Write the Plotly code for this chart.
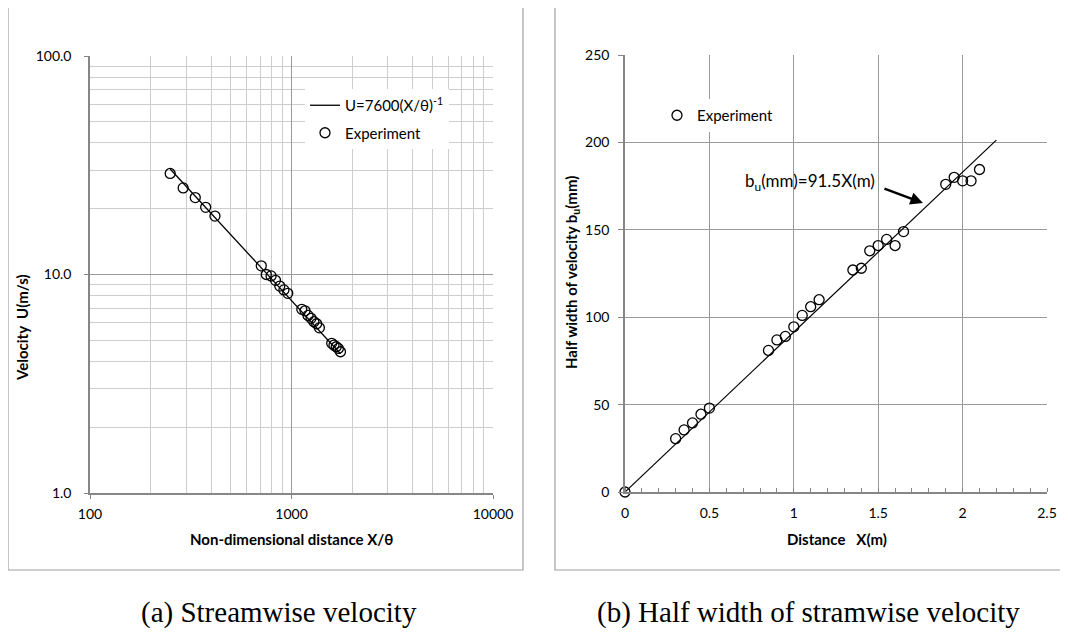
import plotly.graph_objects as go

# ---------------- data ----------------
# (a) streamwise velocity, log-log
xtheta_exp = [250, 290, 333, 375, 417, 708, 750, 792, 833, 875, 917, 958,
              1125, 1167, 1208, 1250, 1292, 1333, 1375, 1583, 1625, 1667, 1708, 1750]
u_exp = [29.0, 24.9, 22.5, 20.3, 18.5, 10.96, 10.0, 9.85, 9.4, 8.85, 8.5, 8.2,
         6.93, 6.82, 6.5, 6.3, 6.08, 5.95, 5.7, 4.84, 4.75, 4.67, 4.59, 4.43]
fit_xtheta = [250, 1750]
fit_u = [30.4, 4.34]

# (b) half width
x_m = [0, 0.30, 0.35, 0.40, 0.45, 0.50, 0.85, 0.90, 0.95, 1.00, 1.05, 1.10, 1.15,
       1.35, 1.40, 1.45, 1.50, 1.55, 1.60, 1.65, 1.90, 1.95, 2.00, 2.05, 2.10]
bu_mm = [0, 30.5, 35.5, 39.5, 44.5, 48, 81, 87, 89, 94.5, 101, 106, 110,
         127, 128, 138, 141, 144.5, 141, 149, 176, 180, 178, 178, 184.5]
fit_x_m = [0, 2.2]
fit_bu = [0, 201.3]

left_xticks = [100, 1000, 10000]
left_yticks = [1, 10, 100]
left_xminor = [200, 300, 400, 500, 600, 700, 800, 900,
               2000, 3000, 4000, 5000, 6000, 7000, 8000, 9000]
left_yminor = [2, 3, 4, 5, 6, 7, 8, 9, 20, 30, 40, 50, 60, 70, 80, 90]

FONT = "Lato, Carlito, Calibri, sans-serif"
W, H = 1068, 635
OFF = 8  # page body margin offset

def px(x):
    return (x - OFF) / W

def py(y):
    return 1 - (y - OFF) / H

fig = go.Figure()

marker = dict(symbol="circle-open", size=10, color="black", line=dict(width=1.3, color="black"))

fig.add_trace(go.Scatter(x=fit_xtheta, y=fit_u, mode="lines", name="U=7600(X/θ)<sup>-1</sup>",
                         line=dict(color="black", width=1.3), xaxis="x", yaxis="y",
                         legend="legend", legendgroup="a1"))
fig.add_trace(go.Scatter(x=xtheta_exp, y=u_exp, mode="markers", name="Experiment",
                         marker=marker, xaxis="x", yaxis="y",
                         legend="legend", legendgroup="a2"))
fig.add_trace(go.Scatter(x=fit_x_m, y=fit_bu, mode="lines", showlegend=False,
                         line=dict(color="black", width=1.2), xaxis="x2", yaxis="y2"))
fig.add_trace(go.Scatter(x=x_m, y=bu_mm, mode="markers", name="Experiment",
                         marker=marker, xaxis="x2", yaxis="y2", legend="legend2",
                         cliponaxis=False))

axis_common = dict(showline=True, linecolor="#868686", linewidth=1.5,
                   tickfont=dict(family=FONT, size=14, color="black"),
                   zeroline=False, mirror=False, automargin=False)

fig.update_layout(
    template="none",
    width=W, height=H,
    margin=dict(l=0, r=0, t=0, b=0, pad=0, autoexpand=False),
    paper_bgcolor="white", plot_bgcolor="white",
    font=dict(family=FONT, color="black"),
    xaxis=dict(type="log", domain=[px(90), px(493)], range=[2, 4], anchor="y",
               tickvals=left_xticks, ticktext=["100", "1000", "10000"],
               ticks="outside", ticklen=4, tickcolor="#868686",
               showgrid=True, gridcolor="#9a9a9a", gridwidth=1,
               minor=dict(tickmode="array", tickvals=left_xminor, showgrid=True,
                          gridcolor="#cdcdcd", gridwidth=1, ticks=""),
               ticklabelstandoff=3, **axis_common),
    yaxis=dict(type="log", domain=[py(493), py(56)], range=[0, 2], anchor="x",
               tickvals=left_yticks, ticktext=["1.0", "10.0", "100.0"],
               ticks="outside", ticklen=4, tickcolor="#868686",
               showgrid=True, gridcolor="#9a9a9a", gridwidth=1,
               minor=dict(tickmode="array", tickvals=left_yminor, showgrid=True,
                          gridcolor="#cdcdcd", gridwidth=1, ticks=""),
               ticklabelstandoff=10, **axis_common),
    xaxis2=dict(domain=[px(625), px(1047)], range=[0, 2.5], anchor="y2",
                tickvals=[0, 0.5, 1, 1.5, 2, 2.5], ticktext=["0", "0.5", "1", "1.5", "2", "2.5"],
                ticks="", showgrid=True, gridcolor="#9a9a9a", gridwidth=1.2,
                minor=dict(dtick=0.1, ticks="inside", ticklen=4, tickcolor="#868686", showgrid=False),
                ticklabelstandoff=7, **axis_common),
    yaxis2=dict(domain=[py(492), py(55)], range=[0, 250], anchor="x2",
                tickvals=[0, 50, 100, 150, 200, 250],
                ticks="outside", ticklen=5, tickcolor="#868686",
                showgrid=True, gridcolor="#9a9a9a", gridwidth=1.2,
                ticklabelstandoff=6, **axis_common),
    legend=dict(x=px(305), y=py(89), xanchor="left", yanchor="top", bgcolor="white",
                font=dict(family=FONT, size=15, color="black"),
                traceorder="grouped", tracegroupgap=5, borderwidth=0),
    legend2=dict(x=px(657), y=py(99), xanchor="left", yanchor="top", bgcolor="white",
                 font=dict(family=FONT, size=15, color="black"), borderwidth=0),
    showlegend=True,
)

# outer frames
for x0, x1 in [(8, 523), (555, 1063)]:
    fig.add_shape(type="rect", xref="paper", yref="paper",
                  x0=px(x0), x1=px(x1), y0=py(570), y1=py(7),
                  line=dict(color="#a0a0a0", width=1.2), fillcolor="rgba(0,0,0,0)", layer="below")

title_font = dict(family=FONT, size=15, color="black")
def label(text, x, y, angle=0, font=title_font):
    fig.add_annotation(text=text, xref="paper", yref="paper", x=px(x), y=py(y),
                       xanchor="center", yanchor="middle", textangle=angle,
                       showarrow=False, font=font)

label("<b>Velocity  U(m/s)</b>", 22, 328, -90)
label("<b>Non-dimensional distance X/θ</b>", 291, 539)
label("<b>Half width of velocity b<sub>u</sub>(mm)</b>", 572, 273, -90)
label("<b>Distance   X(m)</b>", 837, 539)

# fit label with arrow
fig.add_annotation(text="b<sub>u</sub>(mm)=91.5X(m)", xref="x2", yref="y2",
                   x=1.096, y=177.3, xanchor="center", yanchor="middle", showarrow=False,
                   font=dict(family=FONT, size=17, color="black"))
fig.add_annotation(text="", xref="x2", yref="y2", x=1.765, y=165.3, ax=-40, ay=-15,
                   showarrow=True, arrowhead=2, arrowsize=1, arrowwidth=2.5, arrowcolor="black")

# captions
cap_font = dict(family="Liberation Serif, Times New Roman, serif", size=29, color="black")
label("(a) Streamwise velocity", 279, 612, font=cap_font)
label("(b) Half width of stramwise velocity", 808, 612, font=cap_font)

fig.write_html("out.html")
